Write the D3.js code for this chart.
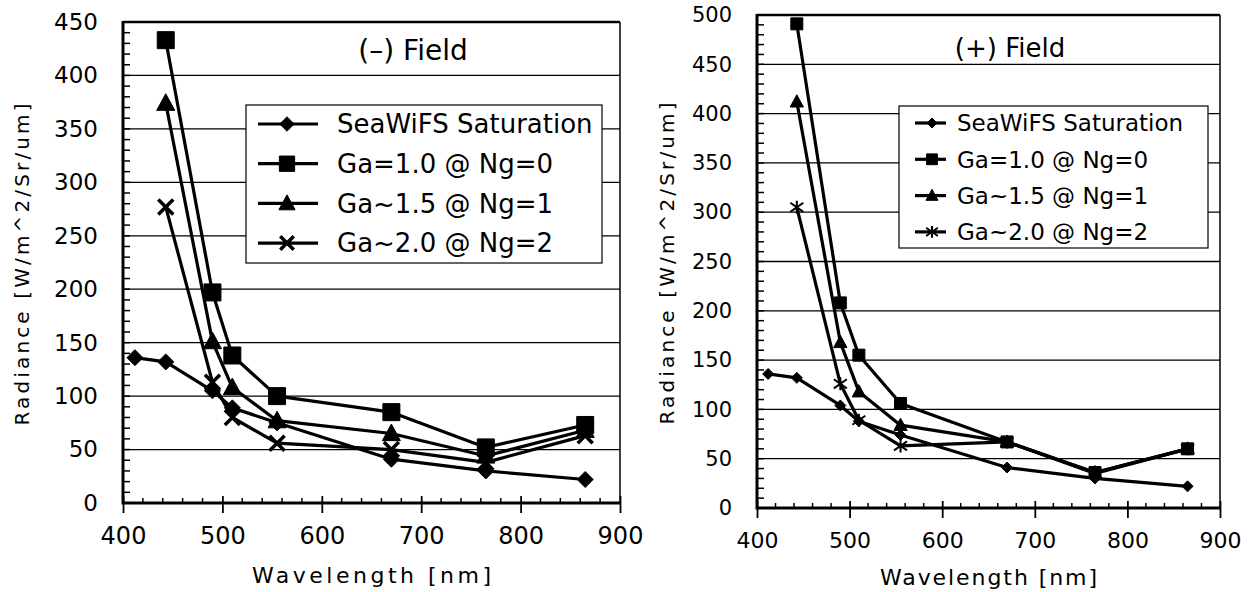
<!DOCTYPE html>
<html>
<head>
<meta charset="utf-8">
<script src="https://cdn.jsdelivr.net/npm/d3@7"></script>
<style>
  body { margin: 0; background: #fff; }
  svg { display: block; }
  text { font-family: "DejaVu Sans", sans-serif; fill: #000; }
</style>
</head>
<body>
<svg id="svg"></svg>
<script>
// bands (nm)
const satBands = [412, 443, 490, 510, 555, 670, 765, 865];
const gaBands = [443, 490, 510, 555, 670, 765, 865];

const legendLabels = ["SeaWiFS Saturation", "Ga=1.0 @ Ng=0", "Ga~1.5 @ Ng=1", "Ga~2.0 @ Ng=2"];

// (-) field
const negSaturation = [136, 132, 105, 89, 75, 41, 30, 22];
const negGa10 = [433, 197, 138, 100, 85, 52, 73];
const negGa15 = [374, 151, 108, 77, 65, 44, 68];
const negGa20 = [277, 113, 80, 56, 50, 38, 63];

// (+) field
const posSaturation = [136, 132, 104, 88, 74, 41, 30, 22];
const posGa10 = [491, 208, 155, 106, 67, 36, 60];
const posGa15 = [412, 168, 118, 84, 67, 36, 60];
const posGa20 = [305, 126, 89, 63, 67, 35, 60];

const xTicks = [400, 500, 600, 700, 800, 900];
const negYTicks = [0, 50, 100, 150, 200, 250, 300, 350, 400, 450];
const posYTicks = [0, 50, 100, 150, 200, 250, 300, 350, 400, 450, 500];

const width = 1251;
const height = 592;

let svg = d3.select("#svg").attr("width", width).attr("height", height);

const panels = [
    {
        title: "(\u2013) Field", titleX: 413, titleY: 60, titleSize: 28,
        left: 123, right: 620, top: 22, bottom: 503,
        yTicks: negYTicks,
        series: [negSaturation, negGa10, negGa15, negGa20],
        markers: ["diamond", "square", "triangle", "x"],
        markSize: [16, 17, 19, 15],
        lineWidth: 3.2,
        yTickSize: 23, xTickSize: 24,
        yLabelX: 22, xLabelY: 583, xLabelLen: 239, yLabelLen: 322,
        legend: { x: 246, y: 105, w: 356, h: 158, row0: 124, step: 39.7,
                  l0: 258, l1: 318, mx: 287, tx: 337, fs: 26, ms: 0.9 }
    },
    {
        title: "(+) Field", titleX: 1010, titleY: 57, titleSize: 26,
        left: 757, right: 1220, top: 15, bottom: 508,
        yTicks: posYTicks,
        series: [posSaturation, posGa10, posGa15, posGa20],
        markers: ["diamond", "square", "triangle", "asterisk"],
        markSize: [11, 12, 14, 13],
        lineWidth: 3.2,
        yTickSize: 21, xTickSize: 22,
        yLabelX: 667, xLabelY: 585, xLabelLen: 217, yLabelLen: 322,
        legend: { x: 899, y: 106, w: 309, h: 142, row0: 123, step: 36.3,
                  l0: 915, l1: 946, mx: 932, tx: 957, fs: 23, ms: 0.9 }
    }
];

function markerPath(type, s) {
    const h = s / 2;
    switch (type) {
        case "diamond": return `M0,${-h}L${h},0L0,${h}L${-h},0Z`;
        case "square": return `M${-h},${-h}H${h}V${h}H${-h}Z`;
        case "triangle": return `M0,${-h}L${h * 0.95},${h * 0.75}L${-h * 0.95},${h * 0.75}Z`;
        case "x": return `M${-h},${-h}L${h},${h}M${-h},${h}L${h},${-h}`;
        case "asterisk": return `M${-h},${-h * 0.7}L${h},${h * 0.7}M${-h},${h * 0.7}L${h},${-h * 0.7}M0,${-h}V${h}`;
    }
}

function drawMarker(g, type, s, x, y) {
    const open = (type === "x" || type === "asterisk");
    g.append("path")
        .attr("transform", `translate(${x},${y})`)
        .attr("d", markerPath(type, s))
        .attr("fill", open ? "none" : "#000")
        .attr("stroke", "#000")
        .attr("stroke-width", open ? (type === "x" ? 3.5 : 2) : 1);
}

function drawPanel(p) {
    const g = svg.append("g");
    const x = d3.scaleLinear().domain([400, 900]).range([p.left, p.right]);
    const y = d3.scaleLinear().domain([0, d3.max(p.yTicks)]).range([p.bottom, p.top]);

    // gridlines
    g.selectAll(".grid")
        .data(p.yTicks.slice(1))
        .enter().append("line")
        .attr("x1", p.left).attr("x2", p.right)
        .attr("y1", d => y(d)).attr("y2", d => y(d))
        .attr("stroke", "#000").attr("stroke-width", 1.3);

    // y minor ticks (inside)
    g.selectAll(".yminor")
        .data(d3.range(0, d3.max(p.yTicks), 10))
        .enter().append("line")
        .attr("x1", p.left).attr("x2", p.left + 7)
        .attr("y1", d => y(d)).attr("y2", d => y(d))
        .attr("stroke", "#000").attr("stroke-width", 1.5);

    // x minor ticks (inside) and crossing major ticks
    g.selectAll(".xminor")
        .data(d3.range(420, 900, 20).filter(d => d % 100 !== 0))
        .enter().append("line")
        .attr("x1", d => x(d)).attr("x2", d => x(d))
        .attr("y1", p.bottom).attr("y2", p.bottom - 5)
        .attr("stroke", "#000").attr("stroke-width", 1.5);

    const xAxis = g.append("g")
        .attr("transform", `translate(0,${p.bottom})`)
        .call(d3.axisBottom(x).tickValues(xTicks).tickSizeInner(10).tickSizeOuter(0).tickPadding(14));
    xAxis.select(".domain").remove();
    xAxis.selectAll(".tick line").attr("y1", -7).attr("stroke-width", 1.8);
    xAxis.selectAll(".tick text")
        .style("font-family", "DejaVu Sans")
        .style("font-size", p.xTickSize + "px");

    const yAxis = g.append("g")
        .attr("transform", `translate(${p.left},0)`)
        .call(d3.axisLeft(y).tickValues(p.yTicks).tickSize(0).tickPadding(25));
    yAxis.select(".domain").remove();
    yAxis.selectAll(".tick text")
        .style("font-family", "DejaVu Sans")
        .style("font-size", p.yTickSize + "px");

    // frame
    g.append("line").attr("x1", p.right).attr("x2", p.right).attr("y1", p.top).attr("y2", p.bottom)
        .attr("stroke", "#000").attr("stroke-width", 1.5);
    g.append("line").attr("x1", p.left).attr("x2", p.right).attr("y1", p.top).attr("y2", p.top)
        .attr("stroke", "#000").attr("stroke-width", 2.5);
    g.append("line").attr("x1", p.left).attr("x2", p.left).attr("y1", p.top - 1).attr("y2", p.bottom + 1.5)
        .attr("stroke", "#000").attr("stroke-width", 3);
    g.append("line").attr("x1", p.left).attr("x2", p.right + 1).attr("y1", p.bottom).attr("y2", p.bottom)
        .attr("stroke", "#000").attr("stroke-width", 3);

    // title
    g.append("text")
        .attr("x", p.titleX).attr("y", p.titleY)
        .attr("text-anchor", "middle")
        .style("font-size", p.titleSize + "px")
        .text(p.title);

    // series
    const line = d3.line().x(d => x(d[0])).y(d => y(d[1]));
    p.series.forEach((vals, i) => {
        const bands = vals.length === satBands.length ? satBands : gaBands;
        const pts = bands.map((b, j) => [b, vals[j]]);
        g.append("path")
            .datum(pts)
            .attr("d", line)
            .attr("fill", "none")
            .attr("stroke", "#000")
            .attr("stroke-width", p.lineWidth)
            .attr("stroke-linejoin", "round");
    });
    p.series.forEach((vals, i) => {
        const bands = vals.length === satBands.length ? satBands : gaBands;
        bands.forEach((b, j) => drawMarker(g, p.markers[i], p.markSize[i], x(b), y(vals[j])));
    });

    // legend
    const L = p.legend;
    g.append("rect")
        .attr("x", L.x).attr("y", L.y).attr("width", L.w).attr("height", L.h)
        .attr("fill", "#fff").attr("stroke", "#000").attr("stroke-width", 1.2);
    legendLabels.forEach((lab, i) => {
        const ry = L.row0 + i * L.step;
        g.append("line").attr("x1", L.l0).attr("x2", L.l1).attr("y1", ry).attr("y2", ry)
            .attr("stroke", "#000").attr("stroke-width", p.lineWidth);
        drawMarker(g, p.markers[i], p.markSize[i] * L.ms, L.mx, ry);
        g.append("text")
            .attr("x", L.tx).attr("y", ry)
            .attr("dy", "0.36em")
            .style("font-size", L.fs + "px")
            .text(lab);
    });

    // axis titles
    g.append("text")
        .attr("x", (p.left + p.right) / 2).attr("y", p.xLabelY)
        .attr("text-anchor", "middle")
        .attr("textLength", p.xLabelLen).attr("lengthAdjust", "spacing")
        .style("font-size", "22px")
        .text("Wavelength [nm]");
    g.append("text")
        .attr("transform", `translate(${p.yLabelX},${(p.top + p.bottom) / 2 + 2}) rotate(-90)`)
        .attr("text-anchor", "middle")
        .attr("dy", "0.36em")
        .attr("textLength", p.yLabelLen).attr("lengthAdjust", "spacing")
        .style("font-size", "20px")
        .text("Radiance [W/m^2/Sr/um]");
}

panels.forEach(drawPanel);
</script>
</body>
</html>
